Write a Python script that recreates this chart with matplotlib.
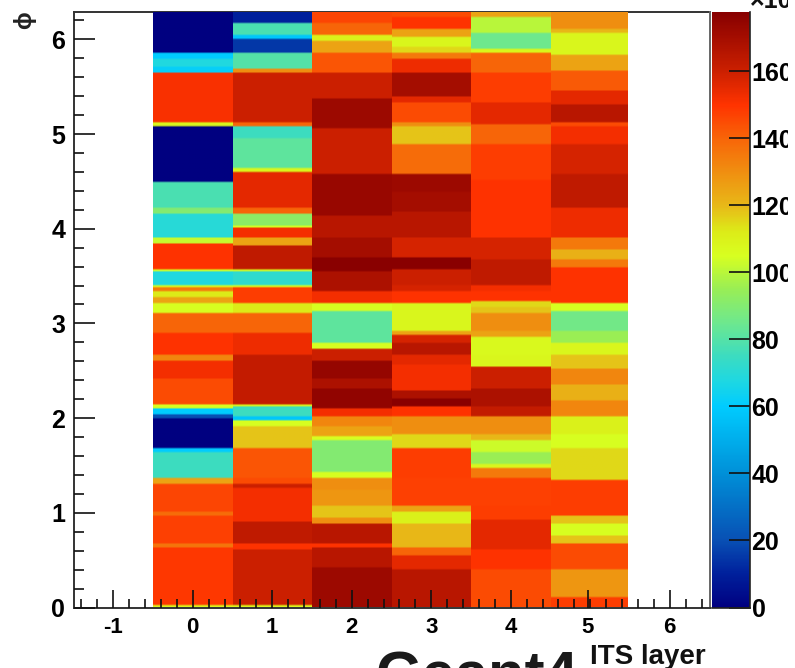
import matplotlib
matplotlib.use("Agg")
import numpy as np
import matplotlib.pyplot as plt
from matplotlib.colors import LinearSegmentedColormap, Normalize
from matplotlib.patches import Rectangle
from matplotlib.ticker import MultipleLocator, FixedLocator

W, H = 795, 668
PHI_MAX = 6.283
Z_MAX = 177.5

# upper phi edge of each band and the content of that band (x10^3), per ITS layer
top_0 = [0.03, 0.63, 0.67, 0.96, 1.0, 1.30, 1.37, 1.63, 1.68, 1.98, 2.03, 2.10, 2.14, 2.40, 2.60, 2.65, 2.90, 3.09,
         3.20, 3.26, 3.32, 3.38, 3.40, 3.53, 3.57, 3.83, 3.89, 4.15, 4.20, 4.48, 5.07, 5.11, 5.64, 5.70, 5.79, 5.84, PHI_MAX]
val_0 = [108, 149, 136, 147, 138, 146, 125, 75, 60, 0, 20, 60, 105, 145, 152, 132, 150, 140,
         105, 125, 112, 135, 105, 68, 105, 150, 102, 70, 90, 78, 0, 108, 151, 62, 68, 60, 0]

top_1 = [0.03, 0.61, 0.66, 0.91, 1.26, 1.30, 1.37, 1.67, 1.91, 1.96, 2.02, 2.11, 2.14, 2.67, 2.90, 3.09,
         3.20, 3.38, 3.40, 3.53, 3.57, 3.82, 3.89, 4.01, 4.03, 4.15, 4.20, 4.59, 4.62, 4.94, 5.07, 5.11, 5.64, 5.68, 5.84,
         5.98, 6.03, 6.15, PHI_MAX]
val_1 = [108, 160, 150, 163, 152, 160, 145, 143, 118, 105, 58, 75, 110, 162, 153, 140,
         112, 148, 105, 72, 108, 163, 125, 152, 105, 92, 140, 155, 108, 82, 75, 140, 160, 130, 80,
         15, 58, 78, 10]

top_2 = [0.42, 0.63, 0.68, 0.89, 0.94, 1.07, 1.24, 1.37, 1.42, 1.75, 1.81, 1.91, 2.02, 2.09, 2.30, 2.41, 2.60, 2.72,
         2.79, 3.13, 3.20, 3.32, 3.53, 3.68, 3.89, 4.13, 4.56, 5.05, 5.37, 5.64, 5.84, 5.97, 6.04, 6.16, PHI_MAX]
val_2 = [172, 165, 150, 165, 130, 118, 128, 130, 105, 90, 105, 125, 132, 152, 175, 168, 174, 160,
         105, 82, 105, 152, 168, 177, 170, 165, 173, 160, 172, 160, 143, 125, 110, 140, 146]

top_3 = [0.40, 0.54, 0.63, 0.89, 1.0, 1.07, 1.37, 1.68, 1.83, 2.02, 2.11, 2.20, 2.28, 2.55, 2.67, 2.78, 2.86, 2.92,
         3.20, 3.32, 3.39, 3.57, 3.69, 3.90, 4.17, 4.38, 4.57, 4.87, 5.07, 5.11, 5.31, 5.38, 5.63, 5.79, 5.84, 5.90, 6.02,
         6.09, 6.21, PHI_MAX]
val_3 = [165, 155, 140, 120, 110, 125, 147, 148, 115, 130, 150, 177, 168, 152, 155, 165, 158, 125,
         108, 150, 158, 160, 177, 158, 165, 170, 172, 138, 118, 130, 145, 155, 170, 153, 135, 115, 108,
         125, 150, 145]

top_4 = [0.40, 0.61, 0.93, 1.07, 1.37, 1.46, 1.51, 1.63, 1.75, 1.83, 2.02, 2.11, 2.30, 2.53, 2.67, 2.85, 2.92, 3.11,
         3.16, 3.23, 3.32, 3.39, 3.66, 3.89, 4.50, 4.87, 5.08, 5.33, 5.64, 5.84, 5.89, 6.05, 6.21, PHI_MAX]
val_4 = [145, 150, 155, 148, 147, 135, 108, 95, 103, 120, 130, 162, 168, 160, 108, 107, 125, 130,
         118, 115, 150, 152, 163, 158, 150, 148, 140, 155, 148, 140, 108, 85, 100, 125]

top_5 = [0.10, 0.40, 0.68, 0.75, 0.87, 0.96, 1.35, 1.68, 1.83, 2.02, 2.18, 2.35, 2.51, 2.65, 2.79, 2.92, 3.12, 3.20,
         3.59, 3.66, 3.76, 3.89, 4.22, 4.57, 4.87, 5.07, 5.11, 5.30, 5.44, 5.65, 5.82, 6.05, 6.10, PHI_MAX]
val_5 = [148, 128, 145, 118, 105, 118, 148, 115, 105, 110, 132, 122, 132, 118, 108, 95, 86, 105,
         150, 135, 122, 135, 153, 163, 158, 152, 145, 165, 155, 142, 125, 108, 120, 130]

layer_tops = [top_0, top_1, top_2, top_3, top_4, top_5]
layer_vals = [val_0, val_1, val_2, val_3, val_4, val_5]
layer_edges = [-0.5, 0.5, 1.5, 2.5, 3.5, 4.5, 5.46]

x_ticks = [-1, 0, 1, 2, 3, 4, 4.97, 6]
x_labels = ['-1', '0', '1', '2', '3', '4', '5', '6']
y_ticks = [0, 1, 2, 3, 4, 5, 6]
z_ticks = [0, 20, 40, 60, 80, 100, 120, 140, 160]

# palette
pal_z = [0, 10, 20, 40, 60, 68, 75, 85, 95, 105, 112, 120, 140, 150, 160, 177.5]
pal_col = ['#000080', '#00209c', '#0850b4', '#0090d8', '#00ccff', '#20d8e0', '#3cdcc0', '#6ee88e', '#99ee55',
           '#d8ff20', '#dcec18', '#e8b818', '#f86508', '#ff3300', '#cc2000', '#880000']

plt.rcParams['font.family'] = ['Liberation Sans', 'DejaVu Sans']
plt.rcParams['font.weight'] = 'bold'
plt.rcParams['axes.unicode_minus'] = False

cmap = LinearSegmentedColormap.from_list('root_rainbow', [(z / Z_MAX, c) for z, c in zip(pal_z, pal_col)], N=512)
norm = Normalize(0, Z_MAX)

fig = plt.figure(figsize=(W / 100, H / 100), dpi=100)


def px_axes(x0, x1, y0, y1):
    # axes from picture pixels, y counted from the top
    return fig.add_axes([x0 / W, 1 - y1 / H, (x1 - x0) / W, (y1 - y0) / H])


ax = px_axes(73.5, 709.5, 12.5, 607.5)

# bands on a fine row grid so the picture gets the same soft edges between rows
n_rows = 300
row_centres = (np.arange(n_rows) + 0.5) * PHI_MAX / n_rows
for layer in range(6):
    idx = np.searchsorted(layer_tops[layer], row_centres)
    rows = np.array(layer_vals[layer], dtype=float)[idx].reshape(-1, 1)
    ax.imshow(rows, origin='lower', aspect='auto', cmap=cmap, norm=norm, zorder=2,
              extent=(layer_edges[layer], layer_edges[layer + 1], 0, PHI_MAX),
              interpolation='bilinear', interpolation_stage='rgba')

ax.set_xlim(-1.5, 6.5)
ax.set_ylim(0, PHI_MAX)

ax.xaxis.set_major_locator(FixedLocator(x_ticks))
ax.set_xticklabels(x_labels)
ax.xaxis.set_minor_locator(MultipleLocator(0.2))
ax.yaxis.set_major_locator(FixedLocator(y_ticks))
ax.yaxis.set_minor_locator(MultipleLocator(0.2))

ax.tick_params(axis='x', which='major', direction='in', length=13, width=1.2, labelsize=16, pad=7, color='#111111')
ax.tick_params(axis='x', which='minor', direction='in', length=6.5, width=1.2, color='#111111')
ax.tick_params(axis='y', which='major', direction='in', length=15, width=1.2, labelsize=18, pad=6, color='#111111')
ax.tick_params(axis='y', which='minor', direction='in', length=7.5, width=1.2, color='#111111')
ax.set_axisbelow(False)

for side in ['left', 'bottom', 'top', 'right']:
    ax.spines[side].set_linewidth(1.4)
    ax.spines[side].set_color('#333333')
ax.spines['top'].set_zorder(1)
ax.spines['right'].set_color('#666666')

cax = px_axes(711.5, 749.5, 12.5, 607.5)
sm = plt.cm.ScalarMappable(norm=norm, cmap=cmap)
cb = fig.colorbar(sm, cax=cax)
cb.set_ticks(z_ticks)
cb.set_ticklabels([str(z) for z in z_ticks])
cax.tick_params(axis='y', which='major', direction='in', length=15, width=1.2, labelsize=18, pad=1.5, color='#111111')
cb.outline.set_visible(False)
for side in ['right', 'bottom']:
    cax.spines[side].set_visible(True)
    cax.spines[side].set_linewidth(1.2)
    cax.spines[side].set_color('#222222')

fig.text(750 / W, 1 - 8 / H, '\u00d710', fontsize=18, fontweight='bold', ha='left', va='baseline', color='#111111')
fig.text(25 / W, 1 - 20 / H, '\u03d5', fontsize=17, fontweight='bold', rotation=90, ha='center', va='center', color='#222222')
fig.text(590 / W, 1 - 664 / H, 'ITS layer', fontsize=20, fontweight='bold', ha='left', va='baseline', color='#111111')
fig.text(375 / W, 1 - 693 / H, 'Geant4', fontsize=43, fontweight='bold', ha='left', va='baseline', color='#1a1a1a')

# the reference stops at x=788, labels are cut there
fig.add_artist(Rectangle((788 / W, 0), 7 / W, 1, transform=fig.transFigure, facecolor='white', edgecolor='none', zorder=20))

fig.savefig('out.png', dpi=100)
